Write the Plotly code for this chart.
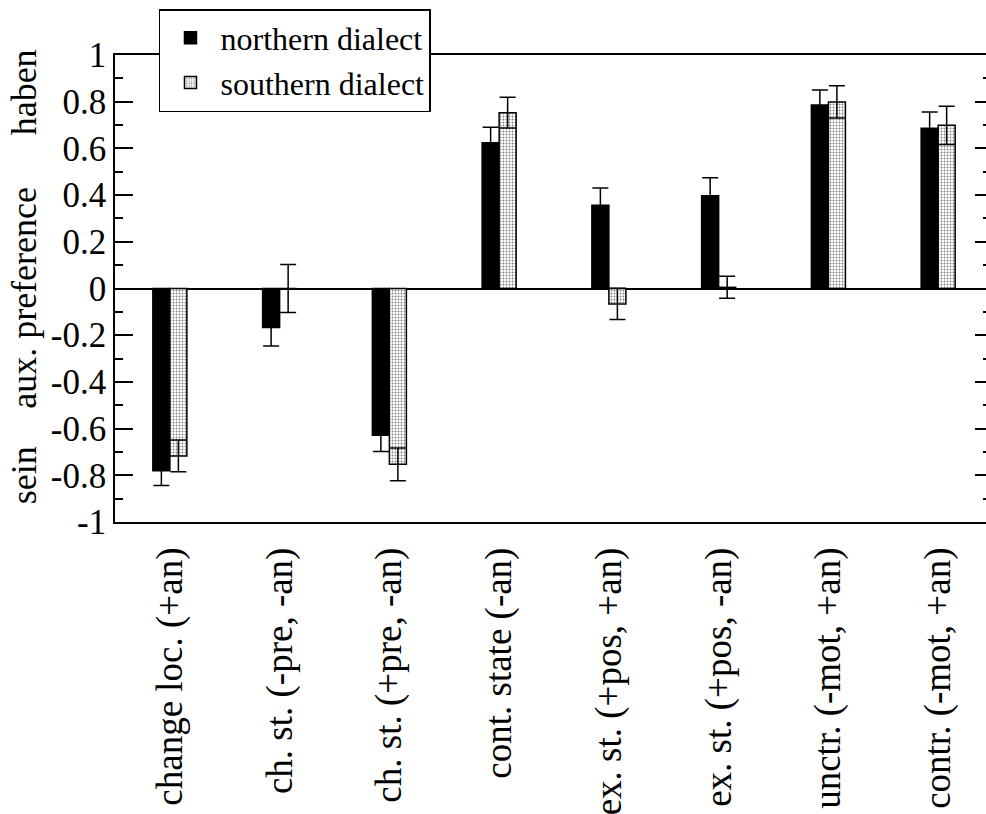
import plotly.graph_objects as go

categories = [
    "change loc. (+an)",
    "ch. st. (-pre, -an)",
    "ch. st. (+pre, -an)",
    "cont. state (-an)",
    "ex. st. (+pos, +an)",
    "ex. st. (+pos, -an)",
    "unctr. (-mot, +an)",
    "contr. (-mot, +an)",
]
north = [-0.780, -0.167, -0.629, 0.624, 0.357, 0.397, 0.786, 0.686]
north_err = [0.064, 0.079, 0.069, 0.067, 0.073, 0.077, 0.064, 0.070]
south = [-0.717, 0.000, -0.753, 0.753, -0.066, 0.005, 0.799, 0.699]
south_err = [0.068, 0.103, 0.070, 0.066, 0.067, 0.047, 0.069, 0.082]

y_ticks = [-1, -0.8, -0.6, -0.4, -0.2, 0, 0.2, 0.4, 0.6, 0.8, 1]
y_labels = ["-1", "-0.8", "-0.6", "-0.4", "-0.2", "0", "0.2", "0.4", "0.6", "0.8", "1"]

FONT = "Liberation Serif, Times New Roman, Times, serif"

fig = go.Figure()
fig.add_trace(go.Bar(
    x=categories, y=north, name="northern dialect",
    marker=dict(color="black", line=dict(color="black", width=1.5)),
    error_y=dict(type="data", array=north_err, symmetric=True,
                 color="black", thickness=1.5, width=8),
))
fig.add_trace(go.Bar(
    x=categories, y=south, name="southern dialect",
    marker=dict(color="white", line=dict(color="black", width=1.5),
                pattern=dict(shape=".", fgcolor="black", bgcolor="white",
                             size=3, solidity=0.3)),
    error_y=dict(type="data", array=south_err, symmetric=True,
                 color="black", thickness=1.5, width=8),
))
# empty trace so that the right-hand tick axis is drawn
fig.add_trace(go.Scatter(x=[], y=[], yaxis="y2", showlegend=False, hoverinfo="skip"))

fig.update_layout(
    width=986, height=814,
    margin=dict(l=115, r=0, t=55, b=292),
    paper_bgcolor="white", plot_bgcolor="white",
    barmode="group", bargap=0.69, bargroupgap=0,
    font=dict(family=FONT, color="black", size=34),
    showlegend=True,
    legend=dict(
        x=0.0505, y=1.0985, xanchor="left", yanchor="top",
        bgcolor="white", bordercolor="black", borderwidth=1.5,
        font=dict(family=FONT, size=32, color="black"),
        itemwidth=50, tracegroupgap=0,
    ),
    xaxis=dict(
        type="category", range=[-0.5, 7.436],
        showline=True, linecolor="black", linewidth=1.5, mirror=True,
        ticks="", tickangle=-90, showgrid=False, zeroline=False,
        tickfont=dict(family=FONT, size=37, color="black"),
        ticklabelstandoff=9,
    ),
    yaxis=dict(
        range=[-1, 1], tickvals=y_ticks, ticktext=y_labels,
        showline=True, linecolor="black", linewidth=1.5, mirror=False,
        ticks="inside", ticklen=18, tickwidth=1.5, tickcolor="black",
        minor=dict(dtick=0.1, ticks="inside", ticklen=8, tickwidth=1.5,
                   tickcolor="black", showgrid=False),
        showgrid=False, zeroline=True, zerolinecolor="black", zerolinewidth=1.5,
        tickfont=dict(family=FONT, size=35, color="black"),
    ),
    yaxis2=dict(
        range=[-1, 1], overlaying="y", side="right", anchor="x",
        tickvals=y_ticks, showticklabels=False,
        ticks="inside", ticklen=11, tickwidth=1.5, tickcolor="black",
        minor=dict(dtick=0.1, ticks="inside", ticklen=3, tickwidth=1.5,
                   tickcolor="black", showgrid=False),
        showline=False, showgrid=False, zeroline=False,
    ),
)

for word, yv in [("haben", 0.84), ("aux. preference", -0.04), ("sein", -0.80)]:
    fig.add_annotation(
        text=word, xref="paper", yref="y", x=-0.1045, y=yv,
        xanchor="center", yanchor="middle", textangle=-90, showarrow=False,
        font=dict(family=FONT, size=36, color="black"),
    )

fig.write_html("out.html")
